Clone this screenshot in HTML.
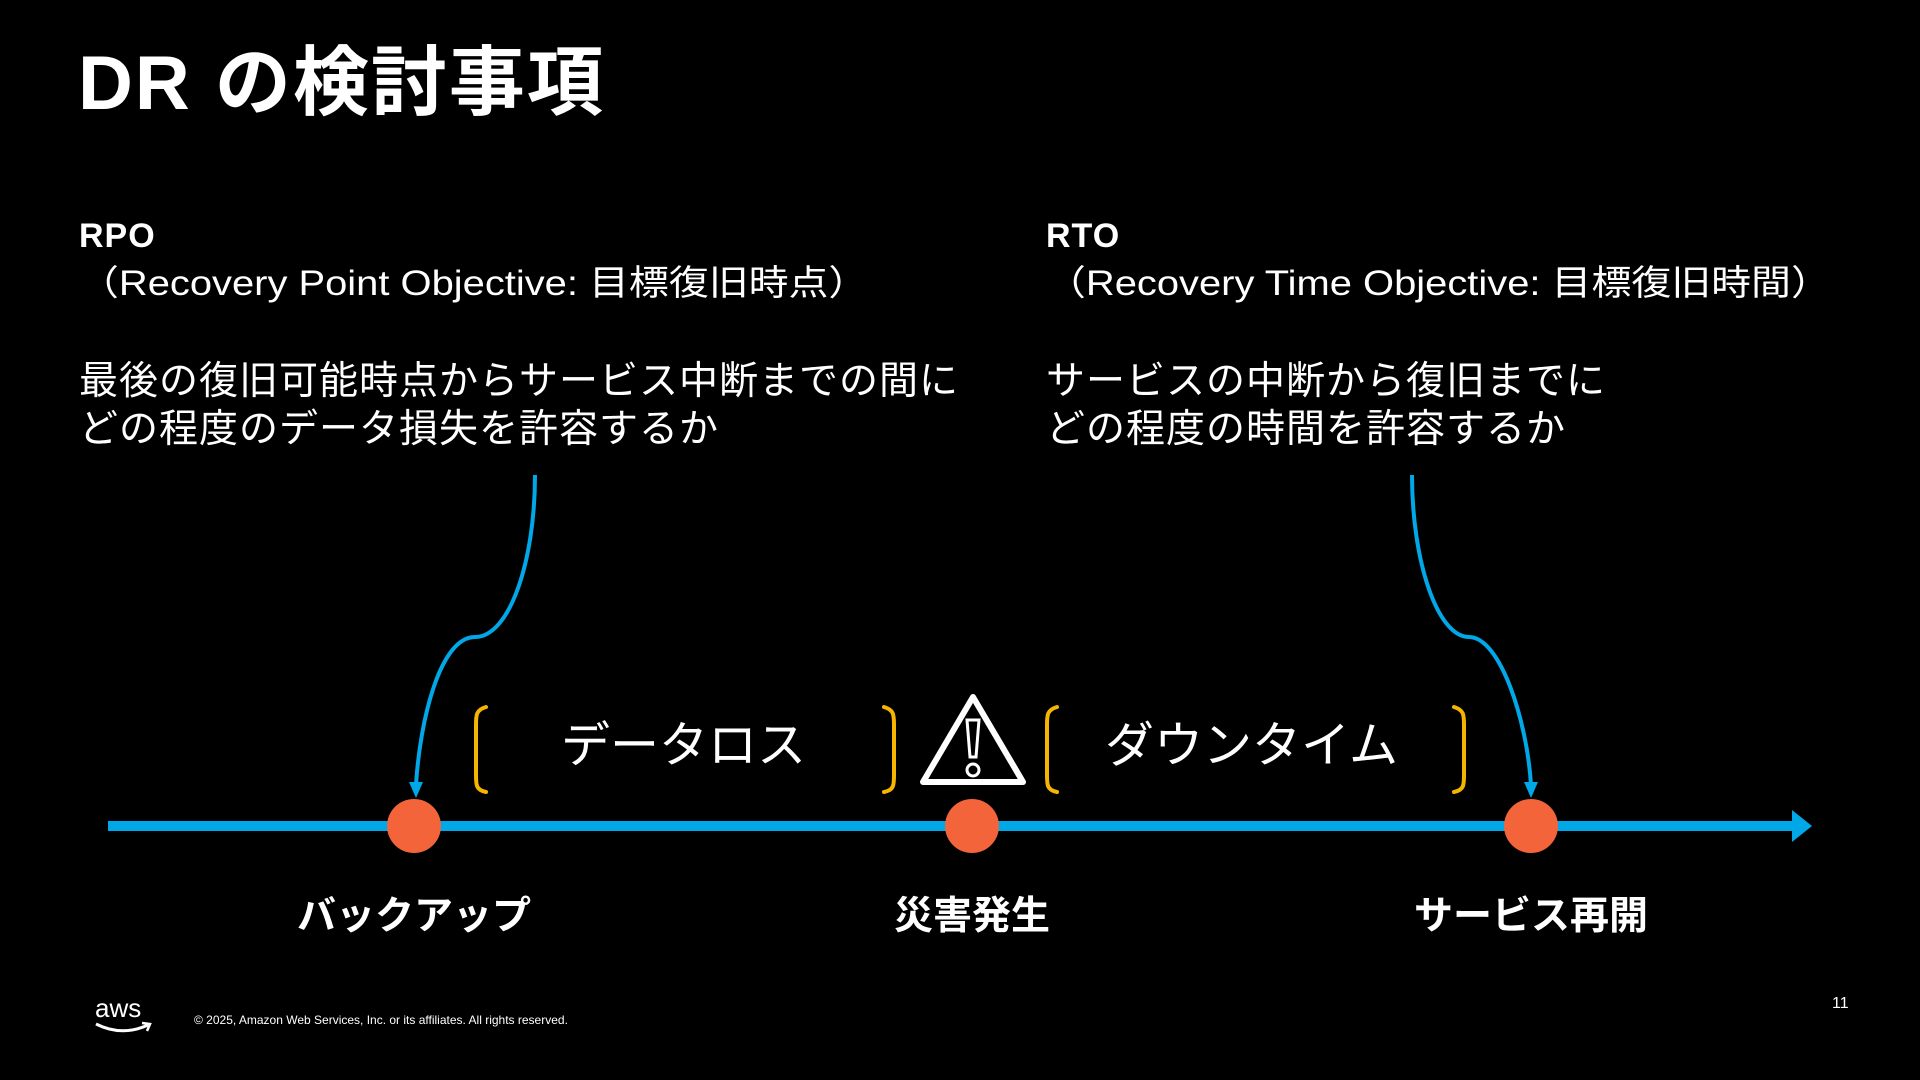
<!DOCTYPE html>
<html><head><meta charset="utf-8"><style>
html,body{margin:0;padding:0;background:#000;}
body{width:1920px;height:1080px;position:relative;overflow:hidden;font-family:"Liberation Sans","Noto Sans CJK JP",sans-serif;color:#fff;}
.t{position:absolute;white-space:nowrap;line-height:1;}
</style></head><body>
<div class="t" style="left:78px;top:46px;font-size:76px;font-weight:bold;letter-spacing:2px;">DR の検討事項</div>

<div class="t" style="left:79px;top:219px;font-size:34px;font-weight:bold;letter-spacing:1px;">RPO</div>
<div class="t" style="left:79px;top:266px;font-size:35px;transform:scaleX(1.14);transform-origin:left;">（Recovery Point Objective: 目標復旧時点）</div>
<div class="t" style="left:79px;top:358px;font-size:39px;line-height:48px;letter-spacing:1px;">最後の復旧可能時点からサービス中断までの間に<br>どの程度のデータ損失を許容するか</div>

<div class="t" style="left:1046px;top:219px;font-size:34px;font-weight:bold;letter-spacing:1px;">RTO</div>
<div class="t" style="left:1046px;top:266px;font-size:35px;transform:scaleX(1.14);transform-origin:left;">（Recovery Time Objective: 目標復旧時間）</div>
<div class="t" style="left:1046px;top:358px;font-size:39px;line-height:48px;letter-spacing:1px;">サービスの中断から復旧までに<br>どの程度の時間を許容するか</div>

<svg width="1920" height="1080" style="position:absolute;left:0;top:0">
 <line x1="108" y1="826" x2="1795" y2="826" stroke="#00A8E8" stroke-width="10"/>
 <polygon points="1792,810 1812,826 1792,842" fill="#00A8E8"/>
 <path d="M535,475 C535,560 510,637 475,637 C440,637 420,720 416,785" fill="none" stroke="#00A8E8" stroke-width="4"/>
 <polygon points="409,782 423,782 416,798" fill="#00A8E8"/>
 <path d="M1412,475 C1412,560 1437,637 1469,637 C1500,637 1527,720 1531,785" fill="none" stroke="#00A8E8" stroke-width="4"/>
 <polygon points="1524,782 1538,782 1531,798" fill="#00A8E8"/>
 <circle cx="414" cy="826" r="27" fill="#F4643A"/>
 <circle cx="972" cy="826" r="27" fill="#F4643A"/>
 <circle cx="1531" cy="826" r="27" fill="#F4643A"/>
 <g fill="none" stroke="#F5B500" stroke-width="4" stroke-linecap="round">
  <path d="M486,707 C476,710 476,715 476,725 L476,775 C476,785 476,790 486,792"/>
  <path d="M884,707 C894,710 894,715 894,725 L894,775 C894,785 894,790 884,792"/>
  <path d="M1057,707 C1047,710 1047,715 1047,725 L1047,775 C1047,785 1047,790 1057,792"/>
  <path d="M1454,707 C1464,710 1464,715 1464,725 L1464,775 C1464,785 1464,790 1454,792"/>
 </g>
 <path d="M973,697 L1023,782 L923,782 Z" fill="none" stroke="#fff" stroke-width="6" stroke-linejoin="round"/>
 <path d="M967,720 L979,720 L976,757 L970,757 Z" fill="none" stroke="#fff" stroke-width="3"/>
 <circle cx="973" cy="770" r="6" fill="none" stroke="#fff" stroke-width="3"/>
</svg>

<div class="t" style="left:561px;top:722px;font-size:49px;">データロス</div>
<div class="t" style="left:1105px;top:722px;font-size:49px;">ダウンタイム</div>

<div class="t" style="left:294px;top:897px;font-size:39px;font-weight:bold;width:240px;text-align:center;">バックアップ</div>
<div class="t" style="left:852px;top:897px;font-size:39px;font-weight:bold;width:240px;text-align:center;">災害発生</div>
<div class="t" style="left:1411px;top:897px;font-size:39px;font-weight:bold;width:240px;text-align:center;">サービス再開</div>

<div class="t" style="left:95px;top:995px;font-size:26px;">aws</div>
<svg width="60" height="20" style="position:absolute;left:94px;top:1021px"><path d="M2,3 Q28,16 54,4" fill="none" stroke="#fff" stroke-width="3"/><path d="M48,2 L56,3 L53,10" fill="none" stroke="#fff" stroke-width="2.5"/></svg>
<div class="t" style="left:194px;top:1014px;font-size:12px;">© 2025, Amazon Web Services, Inc. or its affiliates. All rights reserved.</div>
<div class="t" style="left:1832px;top:996px;font-size:16px;">11</div>
</body></html>
